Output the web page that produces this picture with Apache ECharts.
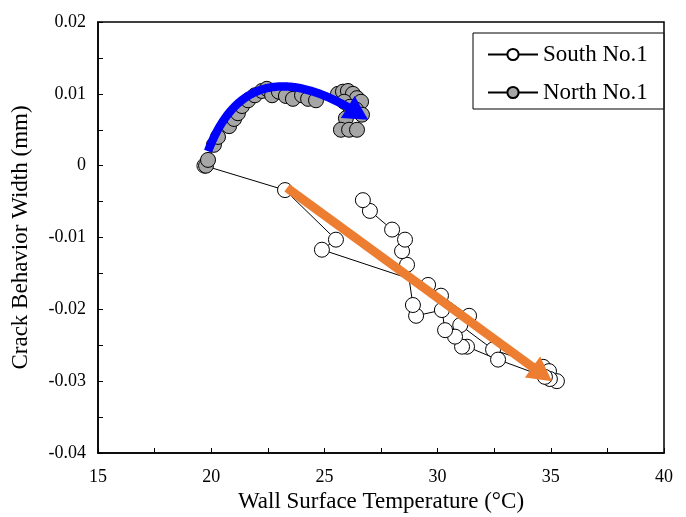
<!DOCTYPE html>
<html>
<head>
<meta charset="utf-8">
<script src="https://cdn.jsdelivr.net/npm/echarts@6/dist/echarts.min.js"></script>
<style>
  html, body { margin: 0; padding: 0; background: #fff; }
  #chart { width: 686px; height: 517px; }
</style>
</head>
<body>
<div id="chart"></div>
<script>
// Axis ranges and tick spacing
const xRange = { min: 15, max: 40, interval: 5 };
const yRange = { min: -0.04, max: 0.02, interval: 0.01 };

const xTitle = 'Wall Surface Temperature (°C)';
const yTitle = 'Crack Behavior Width (mm)';
const seriesNames = ['South No.1', 'North No.1'];

// South No.1: [temperature °C, crack width mm]
const southData = [
  [19.7, 0.0000], [23.26, -0.0034], [25.51, -0.0103], [24.89, -0.0117],
  [29.58, -0.0166], [30.15, -0.0181], [31.39, -0.0209], [31.0, -0.0222],
  [32.45, -0.0256], [34.66, -0.0280], [34.92, -0.0286], [35.27, -0.0300],
  [34.96, -0.0297], [34.74, -0.0294], [32.67, -0.0270], [31.3, -0.0252],
  [31.08, -0.0252], [30.77, -0.0238], [30.33, -0.0229], [30.19, -0.0201],
  [29.05, -0.0209], [28.91, -0.0194], [28.65, -0.0138], [28.43, -0.0119],
  [28.56, -0.0103], [27.99, -0.0089], [27.01, -0.0063], [26.70, -0.0048]
];

// North No.1: [temperature °C, crack width mm]
const northData = [
  [19.77, 0.0000], [19.86, 0.0008], [20.12, 0.0029], [20.30, 0.0040],
  [20.79, 0.0055], [21.01, 0.0065], [21.18, 0.0073], [21.36, 0.0083],
  [21.63, 0.0091], [21.93, 0.0098], [22.24, 0.0104], [22.46, 0.0107],
  [22.69, 0.0098], [22.99, 0.0103], [23.30, 0.0097], [23.61, 0.0093],
  [24.01, 0.0098], [24.28, 0.0093], [24.63, 0.0091], [25.60, 0.0100],
  [25.82, 0.0103], [26.04, 0.0104], [26.26, 0.0100], [26.44, 0.0094],
  [26.62, 0.0089], [25.87, 0.0089], [26.13, 0.0082], [26.40, 0.0078],
  [26.66, 0.0071], [25.95, 0.0066], [25.73, 0.0050], [26.09, 0.0050],
  [26.44, 0.0050]
];

// Trend arrows in data units
const northTrend = [[19.86, 0.0020], [21.71, 0.0175], [26.93, 0.0064]]; // start, control, tip
const southTrend = [[23.35, -0.0031], [35.05, -0.0300]];                 // start, tip

const serif = '"Liberation Serif", "Times New Roman", serif';

function arrowHead(tip, dir, len, width) {
  const bx = tip[0] - dir[0] * len, by = tip[1] - dir[1] * len;
  const nx = -dir[1], ny = dir[0];
  return [tip, [bx + nx * width / 2, by + ny * width / 2], [bx - nx * width / 2, by - ny * width / 2]];
}

function renderCurvedArrow(params, api) {
  const p0 = api.coord(northTrend[0]);
  const c = api.coord(northTrend[1]);
  const p2 = api.coord(northTrend[2]);
  const headLen = 24, headW = 26;
  const pts = [];
  for (let i = 0; i <= 200; i++) {
    const t = i / 200, u = 1 - t;
    const x = u * u * p0[0] + 2 * u * t * c[0] + t * t * p2[0];
    const y = u * u * p0[1] + 2 * u * t * c[1] + t * t * p2[1];
    if (Math.hypot(p2[0] - x, p2[1] - y) < headLen - 3) break;
    pts.push([x, y]);
  }
  const last = pts[pts.length - 1];
  const dx = p2[0] - last[0], dy = p2[1] - last[1];
  const d = Math.hypot(dx, dy);
  const dir = [dx / d, dy / d];
  return {
    type: 'group',
    children: [
      { type: 'polyline', shape: { points: pts }, style: { stroke: '#0000FF', lineWidth: 8.5, fill: null } },
      { type: 'polygon', shape: { points: arrowHead(p2, dir, headLen, headW) }, style: { fill: '#0000FF' } }
    ]
  };
}

function renderStraightArrow(params, api) {
  const a = api.coord(southTrend[0]);
  const b = api.coord(southTrend[1]);
  const headLen = 24, headW = 26;
  const dx = b[0] - a[0], dy = b[1] - a[1];
  const d = Math.hypot(dx, dy);
  const dir = [dx / d, dy / d];
  const end = [b[0] - dir[0] * (headLen - 3), b[1] - dir[1] * (headLen - 3)];
  return {
    type: 'group',
    children: [
      { type: 'line', shape: { x1: a[0], y1: a[1], x2: end[0], y2: end[1] }, style: { stroke: '#ED7D31', lineWidth: 9 } },
      { type: 'polygon', shape: { points: arrowHead(b, dir, headLen, headW) }, style: { fill: '#ED7D31' } }
    ]
  };
}

const chart = echarts.init(document.getElementById('chart'), null, { renderer: 'canvas' });

chart.setOption({
  animation: false,
  backgroundColor: '#fff',
  textStyle: { fontFamily: serif, color: '#000' },
  grid: {
    left: 98, right: 22, top: 22, bottom: 64,
    containLabel: false,
    outerBoundsMode: 'none',
    show: true, borderColor: '#000', borderWidth: 1.5, backgroundColor: 'transparent'
  },
  legend: {
    orient: 'vertical',
    left: 473, top: 33,
    padding: [10, 16, 5, 14],
    itemGap: 15,
    itemWidth: 50,
    itemHeight: 14,
    borderColor: '#000',
    borderWidth: 1,
    backgroundColor: '#fff',
    textStyle: { fontFamily: serif, fontSize: 23, color: '#000' },
    data: seriesNames
  },
  xAxis: {
    type: 'value',
    min: xRange.min, max: xRange.max, interval: xRange.interval,
    name: xTitle,
    nameLocation: 'middle',
    nameGap: 35,
    nameTextStyle: { fontFamily: serif, fontSize: 23, color: '#000' },
    axisLine: { onZero: false, lineStyle: { color: '#000', width: 1.5 } },
    axisTick: { inside: true, length: 5, lineStyle: { color: '#000' } },
    minorTick: { show: true, splitNumber: 2, length: 5, lineStyle: { color: '#000' } },
    axisLabel: { fontFamily: serif, fontSize: 18, color: '#000', margin: 15 },
    splitLine: { show: false }
  },
  yAxis: {
    type: 'value',
    min: yRange.min, max: yRange.max, interval: yRange.interval,
    name: yTitle,
    nameLocation: 'middle',
    nameGap: 66,
    nameTextStyle: { fontFamily: serif, fontSize: 23, color: '#000' },
    axisLine: { show: true, onZero: false, lineStyle: { color: '#000', width: 1.5 } },
    axisTick: { show: true, inside: true, length: 5, lineStyle: { color: '#000' } },
    minorTick: { show: true, splitNumber: 2, length: 5, lineStyle: { color: '#000' } },
    axisLabel: {
      fontFamily: serif, fontSize: 18, color: '#000', margin: 12,
      formatter: v => String(Math.round(v * 100) / 100)
    },
    splitLine: { show: false }
  },
  series: [
    {
      name: seriesNames[0],
      type: 'line',
      data: southData,
      symbol: 'circle',
      symbolSize: 15,
      lineStyle: { color: '#000', width: 1 },
      itemStyle: { color: '#fff', borderColor: '#000', borderWidth: 1 },
      z: 2
    },
    {
      name: seriesNames[1],
      type: 'line',
      data: northData,
      symbol: 'circle',
      symbolSize: 15,
      lineStyle: { color: '#000', width: 1 },
      itemStyle: { color: '#A6A6A6', borderColor: '#000', borderWidth: 1 },
      z: 3
    },
    {
      type: 'custom',
      renderItem: renderCurvedArrow,
      data: [northTrend[0]],
      clip: false,
      silent: true,
      z: 10
    },
    {
      type: 'custom',
      renderItem: renderStraightArrow,
      data: [southTrend[0]],
      clip: false,
      silent: true,
      z: 10
    }
  ]
});
</script>
</body>
</html>
